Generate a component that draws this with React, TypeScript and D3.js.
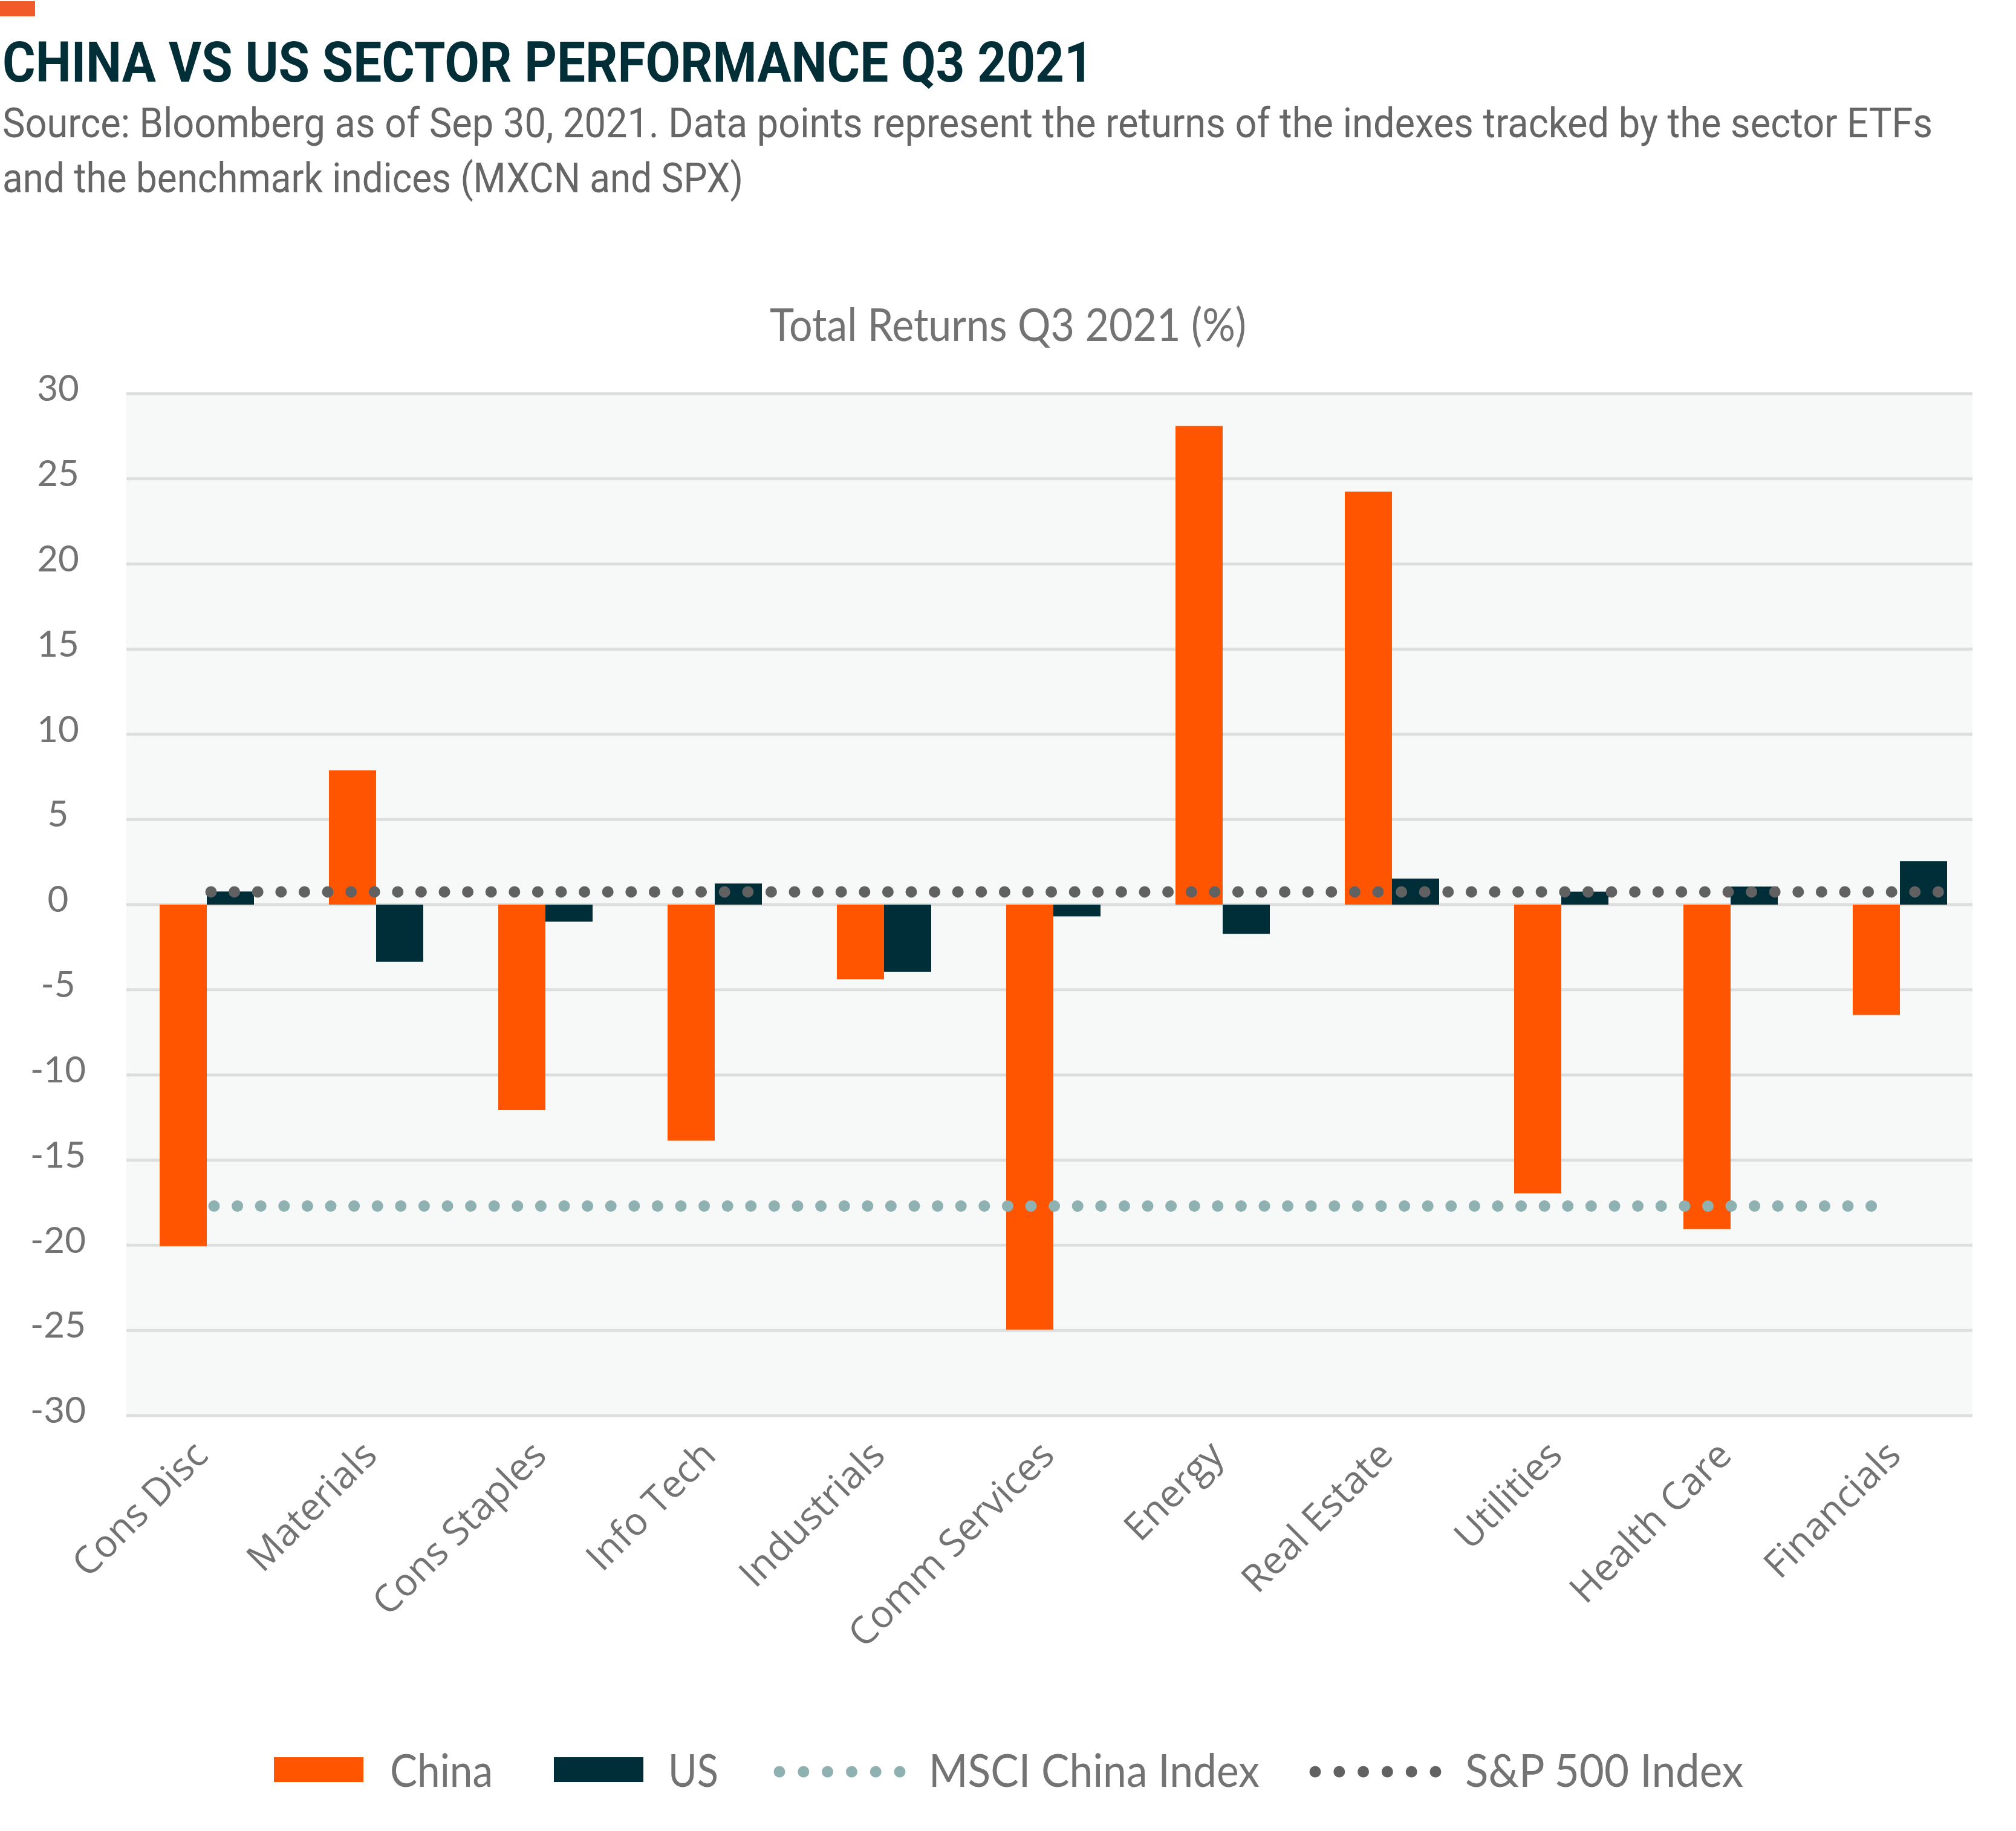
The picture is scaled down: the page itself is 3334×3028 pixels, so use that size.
import React from "react";
import * as d3 from "d3";

const categories = [
  "Cons Disc",
  "Materials",
  "Cons Staples",
  "Info Tech",
  "Industrials",
  "Comm Services",
  "Energy",
  "Real Estate",
  "Utilities",
  "Health Care",
  "Financials",
];
const chinaValues = [-20.05, 7.88, -12.07, -13.86, -4.38, -24.95, 28.1, 24.25, -16.95, -19.05, -6.48];
const usValues = [0.77, -3.36, -1.0, 1.24, -3.94, -0.69, -1.72, 1.53, 0.76, 1.06, 2.55];
const msciChinaIndex = -17.7;
const sp500Index = 0.75;
const yTicks = [30, 25, 20, 15, 10, 5, 0, -5, -10, -15, -20, -25, -30];

const W = 3334;
const H = 3028;
const ORANGE = "#ff5500";
const TEAL = "#002e38";
const MSCI_C = "#8fb1b1";
const SP_C = "#616161";
const GRAY_TXT = "#737373";

export default function App() {
  const plotL = 209;
  const plotR = 3262;
  const y = d3.scaleLinear().domain([-30, 30]).range([2341, 651]);
  const xc = d3.scalePoint<string>().domain(categories).range([342, 3142]);
  const barW = 78;
  const first = xc(categories[0]) as number;
  const last = xc(categories[categories.length - 1]) as number;

  const dotLine = (x1: number, x2: number, yv: number, color: string, key: string) => (
    <line
      key={key}
      x1={x1}
      x2={x2}
      y1={y(yv)}
      y2={y(yv)}
      stroke={color}
      strokeWidth={19}
      strokeLinecap="round"
      strokeDasharray="0 38.6"
    />
  );

  return (
    <svg
      width={W}
      height={H}
      viewBox={`0 0 ${W} ${H}`}
      style={{ position: "absolute", left: 0, top: 0, background: "#ffffff" }}
    >
      <rect x={0} y={0} width={W} height={H} fill="#ffffff" />
      <rect x={0} y={2} width={58} height={25} fill="#f15a29" />
      <text
        x={4}
        y={135}
        fontFamily="'Liberation Sans Narrow', 'Roboto', sans-serif"
        fontWeight={700}
        fontSize={92}
        fill="#022f37"
        textLength={1804}
        lengthAdjust="spacingAndGlyphs"
      >
        CHINA VS US SECTOR PERFORMANCE Q3 2021
      </text>
      <text
        x={4}
        y={227}
        fontFamily="'Liberation Sans Narrow', 'Roboto', sans-serif"
        fontSize={68}
        fill="#666666"
        textLength={3192}
        lengthAdjust="spacingAndGlyphs"
      >
        Source: Bloomberg as of Sep 30, 2021. Data points represent the returns of the indexes tracked by the sector ETFs
      </text>
      <text
        x={4}
        y={318}
        fontFamily="'Liberation Sans Narrow', 'Roboto', sans-serif"
        fontSize={68}
        fill="#666666"
        textLength={1225}
        lengthAdjust="spacingAndGlyphs"
      >
        and the benchmark indices (MXCN and SPX)
      </text>

      <text
        x={W / 2}
        y={564}
        textAnchor="middle"
        fontFamily="Lato, sans-serif"
        fontSize={76}
        fill={GRAY_TXT}
        textLength={788}
        lengthAdjust="spacingAndGlyphs"
      >
        Total Returns Q3 2021 (%)
      </text>

      <rect x={plotL} y={y(30)} width={plotR - plotL} height={y(-30) - y(30)} fill="#f7f9f9" />
      {yTicks.map((t) => (
        <g key={t}>
          <line x1={plotL} x2={plotR} y1={y(t)} y2={y(t)} stroke="#dedede" strokeWidth={5} />
          <text
            x={96}
            y={y(t) - 3}
            textAnchor="middle"
            dominantBaseline="middle"
            fontFamily="Lato, sans-serif"
            fontSize={60}
            fill={GRAY_TXT}
          >
            {t}
          </text>
        </g>
      ))}

      {categories.map((c, i) => {
        const cx = xc(c) as number;
        const cv = chinaValues[i];
        const uv = usValues[i];
        return (
          <g key={c}>
            <rect x={cx - barW} y={y(Math.max(0, cv))} width={barW} height={Math.abs(y(cv) - y(0))} fill={ORANGE} />
            <rect x={cx} y={y(Math.max(0, uv))} width={barW} height={Math.abs(y(uv) - y(0))} fill={TEAL} />
          </g>
        );
      })}

      {dotLine(first + 12, last - 45, msciChinaIndex, MSCI_C, "msci")}
      {dotLine(first + 7, last + 66, sp500Index, SP_C, "sp")}

      {categories.map((c) => {
        const cx = xc(c) as number;
        return (
          <text
            key={c}
            transform={`translate(${cx + 5},${2410}) rotate(-45)`}
            textAnchor="end"
            fontFamily="'Open Sans', sans-serif"
            fontSize={63}
            fill={GRAY_TXT}
          >
            {c}
          </text>
        );
      })}

      {/* Legend */}
      <g>
        <rect x={453} y={2906} width={148} height={41} fill={ORANGE} />
        <text x={645} y={2955} fontFamily="Lato, sans-serif" fontSize={76} fill={GRAY_TXT} textLength={170} lengthAdjust="spacingAndGlyphs">
          China
        </text>
        <rect x={916} y={2906} width={148} height={41} fill={TEAL} />
        <text x={1105} y={2955} fontFamily="Lato, sans-serif" fontSize={76} fill={GRAY_TXT} textLength={83} lengthAdjust="spacingAndGlyphs">
          US
        </text>
        <line x1={1289} x2={1489} y1={2930} y2={2930} stroke={MSCI_C} strokeWidth={19} strokeLinecap="round" strokeDasharray="0 39.8" />
        <text x={1536} y={2955} fontFamily="Lato, sans-serif" fontSize={76} fill={GRAY_TXT} textLength={547} lengthAdjust="spacingAndGlyphs">
          MSCI China Index
        </text>
        <line x1={2175} x2={2375} y1={2930} y2={2930} stroke={SP_C} strokeWidth={19} strokeLinecap="round" strokeDasharray="0 39.8" />
        <text x={2423} y={2955} fontFamily="Lato, sans-serif" fontSize={76} fill={GRAY_TXT} textLength={460} lengthAdjust="spacingAndGlyphs">
          S&amp;P 500 Index
        </text>
      </g>
    </svg>
  );
}
